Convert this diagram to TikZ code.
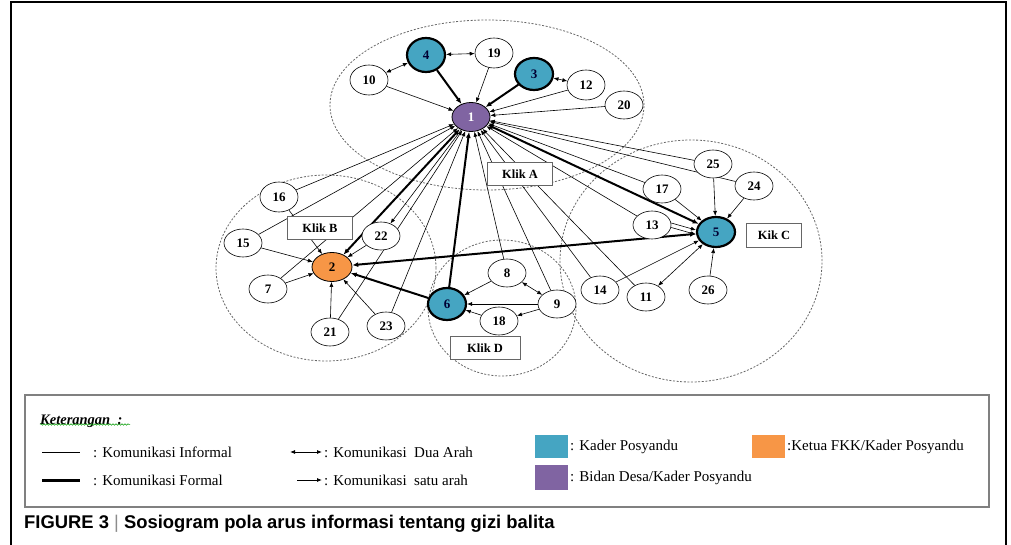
\documentclass[tikz,border=0pt]{standalone}
\usepackage{fontspec}
\setmainfont{Liberation Serif}
\newfontfamily\capfont{Liberation Sans}
\usetikzlibrary{shapes.geometric,arrows.meta,decorations.pathmorphing}
\definecolor{kader}{HTML}{45A5C2}
\definecolor{ketua}{HTML}{F79646}
\definecolor{bidan}{HTML}{8064A2}
\pgfdeclarelayer{cliq}
\pgfdeclarelayer{edges}
\pgfsetlayers{cliq,edges,main}
\tikzset{
  nd/.style={ellipse,draw,fill=white,line width=0.6pt,minimum width=38pt,minimum height=28pt,inner sep=0pt,font=\bfseries\fontsize{13}{13}\selectfont},
  kd/.style={nd,fill=kader,line width=2.2pt,text=black!80!blue},
  ko/.style={nd,fill=ketua,line width=0.8pt,minimum width=40pt,minimum height=29pt},
  bd/.style={nd,fill=bidan,line width=0.8pt,text=white,minimum height=29pt},
  klik/.style={draw=black!60,fill=white,line width=0.8pt,minimum width=65pt,minimum height=23pt,inner sep=0pt,font=\bfseries\fontsize{12.5}{12.5}\selectfont},
  clique/.style={draw=black!60,dash pattern=on 2pt off 1.6pt,line width=0.8pt},
  infl/.style={line width=0.6pt},
  forml/.style={line width=2pt},
  ar/.style={infl,-{Latex[length=5pt,width=4pt]}},
  arr/.style={infl,{Latex[length=5pt,width=4pt]}-{Latex[length=5pt,width=4pt]}},
  tar/.style={forml,-{Latex[length=6pt,width=5pt]}},
  tarr/.style={forml,{Latex[length=6pt,width=5pt]}-{Latex[length=6pt,width=5pt]}},
  lgtxt/.style={anchor=west,inner sep=0pt,font=\fontsize{15}{15}\selectfont},
}
\begin{document}
\begin{tikzpicture}[x=1pt,y=-1pt]
\useasboundingbox (0,0) rectangle (1011,545);
% frame
\draw[line width=1.2pt] (11,545) -- (11,2) -- (1006,2) -- (1006,545);

% cliques
\begin{pgfonlayer}{cliq}
\draw[clique] (487,105) ellipse [x radius=157pt, y radius=85pt];
\draw[clique] (326,268) ellipse [x radius=110pt, y radius=93pt];
\draw[clique] (691,261) ellipse [x radius=131pt, y radius=121pt];
\draw[clique] (502,308) ellipse [x radius=74pt, y radius=68pt];
\end{pgfonlayer}

% nodes
\node[bd] (1) at (471,117) {1};
\node[ko] (2) at (332,267) {2};
\node[kd,minimum height=32pt] (3) at (534,74) {3};
\node[kd,minimum height=34pt] (4) at (426,55) {4};
\node[kd,minimum height=30pt] (5) at (716,232) {5};
\node[kd,minimum height=32pt] (6) at (447,304) {6};
\node[nd] (7) at (268,289) {7};
\node[nd] (8) at (507,273) {8};
\node[nd] (9) at (557,304) {9};
\node[nd,minimum height=30pt] (10) at (369,80) {10};
\node[nd] (11) at (646,297) {11};
\node[nd,minimum height=30pt] (12) at (586,85) {12};
\node[nd] (13) at (652,225) {13};
\node[nd] (14) at (600,290) {14};
\node[nd] (15) at (243,243) {15};
\node[nd,minimum height=30pt] (16) at (279,197) {16};
\node[nd] (17) at (662,189) {17};
\node[nd] (18) at (499,321) {18};
\node[nd,minimum height=30pt] (19) at (494,53) {19};
\node[nd] (20) at (624,105) {20};
\node[nd] (21) at (330,332) {21};
\node[nd] (22) at (381,236) {22};
\node[nd] (23) at (386,326) {23};
\node[nd] (24) at (754,186) {24};
\node[nd] (25) at (713,164) {25};
\node[nd] (26) at (708,290) {26};

% clique labels
\node[klik] (kA) at (520,174) {Klik A};
\node[klik] (kB) at (320,228) {Klik B};
\node[klik,minimum width=55pt,minimum height=24pt] (kC) at (774,235) {Kik C};
\node[klik,minimum width=70pt] (kD) at (485,348) {Klik D};

% edges
\begin{pgfonlayer}{edges}
% into 1
\draw[ar] (10) -- (1);
\draw[ar] (19) -- (1);
\draw[ar] (12) -- (1);
\draw[ar] (20) -- (1);
\draw[ar] (25) -- (1);
\draw[ar] (24) -- (1);
\draw[ar] (17) -- (1);
\draw[ar] (13) -- (1);
\draw[ar] (11) -- (1);
\draw[ar] (14) -- (1);
\draw[ar] (9) -- (1);
\draw[ar] (8) -- (1);
\draw[ar] (23) -- (1);
\draw[ar] (21) -- (1);
\draw[ar] (7) -- (1);
\draw[ar] (15) -- (1);
\draw[ar] (16) -- (1);
\draw[ar] (1) -- (22);
\draw[tar] (4) -- (1);
\draw[tar] (3) -- (1);
\draw[tar] (6) -- (1);
\draw[tarr] (1) -- (2);
\draw[tarr] (1) -- (5);
% into 2
\draw[ar] (16) -- (2);
\draw[ar] (15) -- (2);
\draw[ar] (7) -- (2);
\draw[ar] (21) -- (2);
\draw[ar] (23) -- (2);
\draw[ar] (22) -- (2);
\draw[tar] (6) -- (2);
\draw[tarr] (2) -- (5);
% into 5
\draw[ar] (17) -- (5);
\draw[ar] (25) -- (5);
\draw[ar] (24) -- (5);
\draw[ar] ([yshift=2pt]13.east) -- ([yshift=2pt]5.west);
\draw[ar] ([yshift=-2.5pt]13.east) -- ([yshift=-2.5pt]5.west);
\draw[ar] (14) -- (5);
\draw[ar] (26) -- (5);
\draw[arr] (11) -- (5);
% into 6
\draw[ar] (8) -- (6);
\draw[ar] (9) -- (6);
\draw[ar] (18) -- (6);
\draw[ar] (9) -- (18);
\draw[arr] (8) -- (9);
% top
\draw[arr] (10) -- (4);
\draw[arr] (4) -- (19);
\draw[arr] (3) -- (12);
\end{pgfonlayer}

% legend
\draw[draw=black!50,line width=1.3pt] (25,395) rectangle (989,507);
\node[lgtxt,font=\bfseries\itshape\fontsize{14.5}{14.5}\selectfont] (ket) at (40,421) {Keterangan\ \ :};
\draw[green!60!black,line width=0.5pt,decorate,decoration={snake,amplitude=0.8pt,segment length=3pt}] (ket.south west) ++(0,-3) coordinate (u1) -- ++(90,0) coordinate (u2);
\coordinate (l1a) at (42,452);
\coordinate (l1b) at (80,452);
\draw[line width=0.6pt] (l1a) -- (l1b);
\node[lgtxt] (t1) at (93,452) {: Komunikasi Informal};
\coordinate (l2a) at (42,480);
\coordinate (l2b) at (80,480);
\draw[line width=3pt] (l2a) -- (l2b);
\node[lgtxt] (t2) at (93,480) {: Komunikasi Formal};
\coordinate (l3a) at (290,452);
\coordinate (l3b) at (322,452);
\draw[arr,line width=0.8pt] (l3a) -- (l3b);
\node[lgtxt] (t3) at (324,452) {: Komunikasi\ \ Dua Arah};
\coordinate (l4a) at (297,480);
\coordinate (l4b) at (322,480);
\draw[ar,line width=0.8pt] (l4a) -- (l4b);
\node[lgtxt] (t4) at (324,480) {: Komunikasi\ \ satu arah};
\fill[kader] (535,435) rectangle (568,458);
\node[lgtxt] (t5) at (570,447) {: Kader Posyandu};
\fill[ketua] (752,435) rectangle (785,458);
\node[lgtxt] (t6) at (787,447) {:Ketua FKK/Kader Posyandu};
\fill[bidan] (535,465) rectangle (568,490);
\node[lgtxt] (t7) at (570,478) {: Bidan Desa/Kader Posyandu};

% caption
\node[anchor=west,inner sep=0pt,font=\capfont\bfseries\fontsize{18.4}{18.4}\selectfont] (cap) at (24,524) {FIGURE 3 {\color{black!45}\mdseries|} Sosiogram pola arus informasi tentang gizi balita};
\end{tikzpicture}
\end{document}
